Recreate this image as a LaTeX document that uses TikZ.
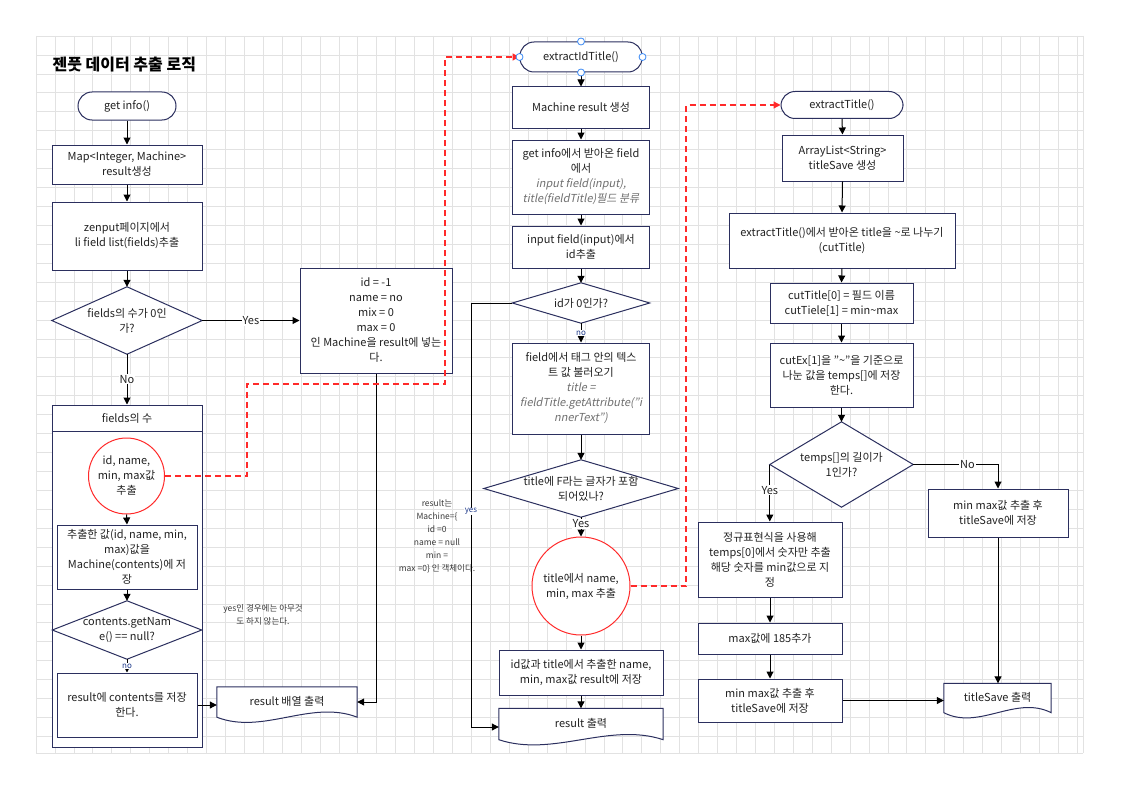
\documentclass[tikz,border=0pt]{standalone}
\usepackage{fontspec}
\setmainfont{Noto Sans CJK KR}[AutoFakeSlant=0.2]
\usetikzlibrary{arrows.meta,calc}
\definecolor{navy}{HTML}{2B2F5E}
\definecolor{txt}{HTML}{222222}
\definecolor{redc}{HTML}{FF2A2A}
\definecolor{gridc}{HTML}{E2E2E2}
\definecolor{ital}{HTML}{707070}
\definecolor{lblue}{HTML}{1E3A8A}
\definecolor{handle}{HTML}{3D8BF5}
\definecolor{notec}{HTML}{3A3A3A}
\newcommand\diamondbox[5]{%
  \path (#2) node[minimum width=#3, minimum height=#4, inner sep=0pt] (#1) {};
  \filldraw[dshape] (#1.north) -- (#1.east) -- (#1.south) -- (#1.west) -- cycle;
  \node[dia] (#1t) at (#1) {#5};}
\newcommand\docbox[5]{%
  \path (#2) node[minimum width=#3, minimum height=#4, inner sep=0pt] (#1) {};
  \filldraw[dshape] (#1.south west) -- (#1.north west) -- (#1.north east) -- (#1.south east)
    .. controls ($(#1.south east)!0.33!(#1.south west)+(0,-18)$) and ($(#1.south east)!0.67!(#1.south west)+(0,18)$) .. (#1.south west) -- cycle;
  \node[dia] (#1t) at ([yshift=1pt]#1) {#5};}
\begin{document}
\begin{tikzpicture}[x=1pt,y=-1pt,font=\fontsize{11}{15}\selectfont,
  box/.style={draw=navy, line width=1pt, fill=white, align=center, inner sep=2pt, text=txt},
  proc/.style={box, rectangle},
  term/.style={box, rounded corners=14pt},
  dia/.style={rectangle, align=center, inner sep=0pt, text=txt},
  dshape/.style={draw=navy, line width=1pt, fill=white},
  rcirc/.style={circle, draw=redc, line width=1pt, fill=white, align=center, inner sep=0pt, text=txt},
  arr/.style={draw=black, line width=1pt, -{Triangle[length=7pt,width=7pt]}},
  rd/.style={draw=redc, line width=1.2pt, dash pattern=on 6pt off 4pt, -{Triangle[length=7pt,width=7pt]}},
  lbl/.style={fill=white, inner sep=1pt, text=txt},
  sml/.style={font=\fontsize{8}{9}\selectfont, fill=white, inner sep=0.5pt, text=lblue},
  notebox/.style={align=center, text=notec, font=\fontsize{8.5}{13}\selectfont, inner sep=0pt},
  hdl/.style={circle, draw=handle, fill=white, line width=0.8pt, minimum size=7pt, inner sep=0pt}
]
\useasboundingbox (0,0) rectangle (1123,789);
\fill[white] (0,0) rectangle (1123,789);
% grid
\begin{scope}[draw=gridc, line width=0.7pt]
\foreach \i in {0,...,55} \draw (36+\i*18.93,36) -- (36+\i*18.93,753);
\foreach \j in {0,...,37} \draw (36,36+\j*18.93) -- (1083,36+\j*18.93);
\draw (1083,36) -- (1083,753);
\draw (36,753) -- (1083,753);
\end{scope}

% title
\node[anchor=base west, font=\fontsize{16}{18}\selectfont\bfseries, text=black] (title) at (49,71) {젠풋 데이터 추출 로직};

% ---------- left column ----------
\node[term, minimum width=98pt, minimum height=28pt] (gi) at (127,106) {get info()};
\node[proc, minimum width=150pt, minimum height=39pt] (mapb) at (127,164.5) {Map<Integer, Machine>\\result생성};
\node[proc, minimum width=150pt, minimum height=68pt] (zen) at (127,236) {zenput페이지에서\\li field list(fields)추출};
\diamondbox{d1}{127,320.5}{150pt}{67pt}{fields의 수가 0인\\가?}
\node[draw=navy, line width=1pt, fill=white, minimum width=150pt, minimum height=342pt, inner sep=0pt] (cont) at (127,576) {};
\draw[navy, line width=1pt] ([yshift=-27pt]cont.north west) -- ([yshift=-27pt]cont.north east);
\node[text=txt] (conth) at ([yshift=-13.5pt]cont.north) {fields의 수};
\node[rcirc, minimum size=76pt] (c1) at (126.5,476) {id, name,\\min, max값\\추출};
\node[proc, minimum width=140pt, minimum height=64pt] (ext) at (127,557) {추출한 값(id, name, min,\\max)값을\\Machine(contents)에 저\\장};
\diamondbox{d2}{127,630}{149pt}{58pt}{contents.getNam\\e() == null?}
\node[proc, minimum width=140pt, minimum height=64pt] (res1) at (127,705) {result에 contents를 저장\\한다.};
\docbox{doc1}{287,702}{140pt}{30pt}{result 배열 출력}

% id box and notes
\node[proc, minimum width=152pt, minimum height=105pt] (idb) at (376,320.5) {id = -1\\name = no\\mix = 0\\max = 0\\인 Machine을 result에 넣는\\다.};
\node[notebox] (note1) at (437,536) {result는\\Machine=\{\\id =0\\name = null\\min =\\max =0\} 인 객체이다.};
\node[notebox] (note2) at (263,615) {yes인 경우에는 아무것\\도 하지 않는다.};

% ---------- middle column ----------
\node[term, minimum width=122pt, minimum height=30pt] (eit) at (581,57) {extractIdTitle()};
\node[proc, minimum width=137pt, minimum height=41pt] (mr) at (581,107.5) {Machine result 생성};
\node[proc, minimum width=137pt, minimum height=74pt] (gib) at (581,177) {get info에서 받아온 field\\에서\\{\itshape\color{ital}input field(input),}\\{\itshape\color{ital}title(fieldTitle)필드 분류}};
\node[proc, minimum width=137pt, minimum height=42pt] (ifb) at (581,247) {input field(input)에서\\id추출};
\diamondbox{d3}{581,303}{137pt}{40pt}{id가 0인가?}
\node[proc, minimum width=137pt, minimum height=91pt] (fb) at (581,388.5) {field에서 태그 안의 텍스\\트 값 불러오기\\{\itshape\color{ital}title =}\\{\itshape\color{ital}fieldTitle.getAttribute("i}\\{\itshape\color{ital}nnerText")}};
\diamondbox{d4}{581,488.5}{194pt}{57pt}{title에 F라는 글자가 포함\\되어있나?}
\node[rcirc, minimum size=98pt] (c2) at (581,586) {title에서 name,\\min, max 추출};
\node[proc, minimum width=164pt, minimum height=45pt] (idv) at (581,672.5) {id값과 title에서 추출한 name,\\min, max값 result에 저장};
\docbox{doc2}{581,724}{164pt}{31pt}{result 출력}

% ---------- right column ----------
\node[term, minimum width=122pt, minimum height=27pt] (et) at (842,105) {extractTitle()};
\node[proc, minimum width=121pt, minimum height=46pt] (al) at (842.5,158) {ArrayList<String>\\titleSave 생성};
\node[proc, minimum width=226pt, minimum height=55pt] (etb) at (842,240.5) {extractTitle()에서 받아온 title을 \textasciitilde 로 나누기\\(cutTitle)};
\node[proc, minimum width=143pt, minimum height=40pt] (ct) at (841.5,303) {cutTitle[0] = 필드 이름\\cutTiele[1] = min\textasciitilde max};
\node[proc, minimum width=143pt, minimum height=64pt] (ce) at (841.5,375) {cutEx[1]을 "\textasciitilde"을 기준으로\\나눈 값을 temps[]에 저장\\한다.};
\diamondbox{d5}{841.5,464.5}{143pt}{85pt}{temps[]의 길이가\\1인가?}
\node[proc, minimum width=140pt, minimum height=48pt] (rb) at (998,513) {min max값 추출 후\\titleSave에 저장};
\node[proc, minimum width=144pt, minimum height=75pt] (rx) at (770,559.5) {정규표현식을 사용해\\temps[0]에서 숫자만 추출\\해당 숫자를 min값으로 지\\정};
\node[proc, minimum width=144pt, minimum height=31pt] (mx) at (770,638.5) {max값에 185추가};
\node[proc, minimum width=144pt, minimum height=43pt] (mm) at (770,700.5) {min max값 추출 후\\titleSave에 저장};
\docbox{doc3}{997.5,698}{107pt}{29pt}{titleSave 출력}

% ---------- connectors ----------
\draw[arr] (gi.south) -- (mapb.north);
\draw[arr] (mapb.south) -- (zen.north);
\draw[arr] (zen.south) -- (d1.north);
\draw[arr] (d1.east) -- node[lbl] {Yes} (idb.west);
\draw[arr] (d1.south) -- node[lbl] {No} (cont.north);
\draw[arr] (c1.south) -- (ext.north);
\draw[arr] (ext.south) -- (d2.north);
\draw[arr] (d2.south) -- node[sml] {no} (res1.north);
\draw[arr] (res1.east) -- (res1.east -| doc1.west);
\draw[arr] (idb.south) |- (doc1.east);

\draw[arr] (eit.south) -- (mr.north);
\draw[arr] (mr.south) -- (gib.north);
\draw[arr] (gib.south) -- (ifb.north);
\draw[arr] (ifb.south) -- (d3.north);
\draw[arr] (d3.south) -- node[sml] {no} (fb.north);
\coordinate (l1) at (471,727);
\draw[arr] (d3.west) -| node[sml, pos=0.746] {yes} (l1) -- (l1 -| doc2.west);
\draw[arr] (fb.south) -- (d4.north);
\draw[arr] (d4.south) -- node[lbl, pos=0.35] {Yes} (c2.north);
\draw[arr] (c2.south) -- (idv.north);
\draw[arr] (idv.south) -- (doc2.north);

\draw[arr] (et.south) -- (al.north);
\draw[arr] (al.south) -- (etb.north);
\draw[arr] (etb.south) -- (ct.north);
\draw[arr] (ct.south) -- (ce.north);
\draw[arr] (ce.south) -- (d5.north);
\draw[arr] (d5.east) -| node[lbl, pos=0.32] {No} (rb.north);
\draw[arr] (d5.west) -- node[lbl, pos=0.45] {Yes} (d5.west |- rx.north);
\draw[arr] (rx.south) -- (mx.north);
\draw[arr] (mx.south) -- (mm.north);
\draw[arr] (mm.east) -- (mm.east -| doc3.west);
\draw[arr] (rb.south) -- (rb.south |- doc3.north);

% red dashed links
\coordinate (r1) at (247,384);
\coordinate (r2) at (445,57);
\draw[rd] (c1.east) -| (r1) -| (r2) -- (eit.west);
\coordinate (r3) at (686,105);
\draw[rd] (c2.east) -| (r3) -- (et.west);

% selection handles
\node[hdl] (h1) at (eit.north) {};
\node[hdl] (h2) at (eit.south) {};
\node[hdl] (h3) at (eit.west) {};
\node[hdl] (h4) at (eit.east) {};
\end{tikzpicture}
\end{document}
